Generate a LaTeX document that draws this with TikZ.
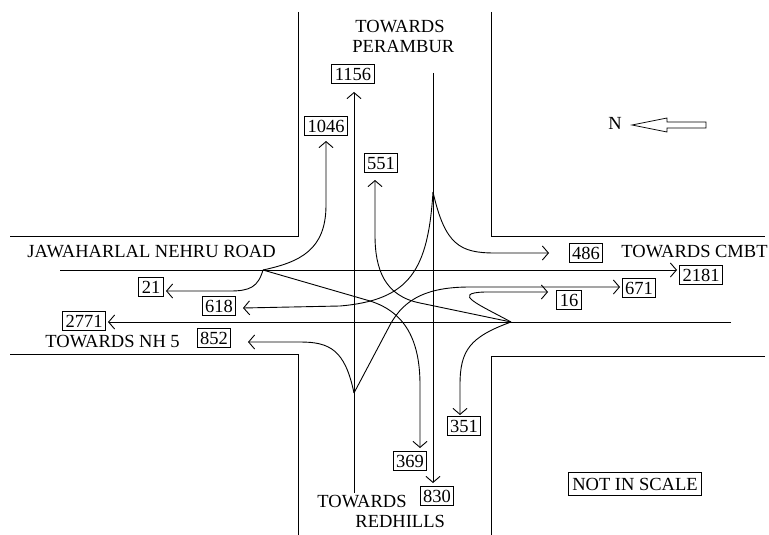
\documentclass[tikz,border=0pt]{standalone}
\usepackage{fontspec}
\setmainfont{Liberation Serif}
\usetikzlibrary{arrows.meta}

\begin{document}
\begin{tikzpicture}[x=1pt, y=-1pt, line width=0.9pt,
        font=\fontsize{18.5}{20}\selectfont,
        flow/.style={-{Straight Barb[length=6pt,width=14pt]}},
        count/.style={draw, line width=0.8pt, inner xsep=3pt, inner ysep=2pt, minimum height=19pt},
        place/.style={inner sep=0pt, anchor=base west}]
    \useasboundingbox (0,0) rectangle (769,535);
        % road edges
        \draw[line width=1pt] (298,12) -- (298,236) -- (10,236) ;
        \draw[line width=1pt] (491,12) -- (491,236) -- (765,236) ;
        \draw[line width=1pt] (10,354) -- (298,354) -- (298,535) ;
        \draw[line width=1pt] (765,356) -- (491,356) -- (491,535) ;
        % junction points and arrow ends
        \coordinate (W) at (263,270) ;
        \coordinate (E) at (511,322) ;
        \coordinate (Nc) at (433,192) ;
        \coordinate (Sc) at (354,393) ;
        \coordinate (wIn) at (60,270) ;
        \coordinate (eIn) at (731,322) ;
        \coordinate (sIn) at (354,493) ;
        \coordinate (nIn) at (433,73) ;
        \coordinate (to2181) at (677,270) ;
        \coordinate (to2771) at (108,322) ;
        \coordinate (to1156) at (354,92) ;
        \coordinate (to830) at (433,483) ;
        \coordinate (to1046) at (326,141) ;
        \coordinate (to21) at (166,291) ;
        \coordinate (to369) at (420,448) ;
        \coordinate (to551) at (375,180) ;
        \coordinate (to618) at (243,308) ;
        \coordinate (to486) at (549,253) ;
        \coordinate (to852) at (248,342) ;
        \coordinate (to671) at (620,287) ;
        \coordinate (to16) at (548,292) ;
        \coordinate (to351) at (460,415) ;
        % through traffic
        \draw[flow] (wIn) -- (to2181) ;
        \draw[flow] (eIn) -- (to2771) ;
        \draw[flow] (sIn) -- (to1156) ;
        \draw[flow] (nIn) -- (to830) ;
        % turning traffic
        \draw[flow] (W) .. controls (300,262) and (326,250) .. (326,205) -- (to1046) ;
        \draw[flow] (W) .. controls (258,287) and (250,291) .. (230,291) -- (to21) ;
        \draw[flow] (W) -- (370,301) .. controls (405,312) and (420,340) .. (420,385) -- (to369) ;
        \draw[flow] (E) -- (420,303) .. controls (385,296) and (375,270) .. (375,235) -- (to551) ;
        \draw[flow] (Nc) .. controls (428,270) and (410,300) .. (340,306) -- (to618) ;
        \draw[flow] (Nc) .. controls (445,245) and (460,253) .. (495,253) -- (to486) ;
        \draw[flow] (Sc) .. controls (345,350) and (330,342) .. (300,342) -- (to852) ;
        \draw[flow] (Sc) -- (390,325) .. controls (405,297) and (430,287) .. (470,287) -- (to671) ;
        \draw[flow] (E) .. controls (480,305) and (450,293) .. (485,292) -- (to16) ;
        \draw[flow] (E) .. controls (470,337) and (460,350) .. (460,385) -- (to351) ;
        % counts
        \node[count] (n1156) at (353,74) {1156} ;
        \node[count] (n1046) at (326,126) {1046} ;
        \node[count] (n551) at (381,163) {551} ;
        \node[count] (n486) at (586,253) {486} ;
        \node[count] (n2181) at (701,275) {2181} ;
        \node[count] (n671) at (639,288) {671} ;
        \node[count] (n16) at (569,300) {16} ;
        \node[count] (n351) at (464,426) {351} ;
        \node[count] (n369) at (410,461) {369} ;
        \node[count] (n830) at (437,496) {830} ;
        \node[count] (n21) at (151,287) {21} ;
        \node[count] (n618) at (219,306) {618} ;
        \node[count] (n2771) at (84,321) {2771} ;
        \node[count] (n852) at (214,338) {852} ;
        % road names
        \node[place] (perA) at (355,33) {TOWARDS} ;
        \node[place] (perB) at (352,53) {PERAMBUR} ;
        \node[place] (jnroad) at (27,257) {JAWAHARLAL NEHRU ROAD} ;
        \node[place] (cmbt) at (621,257) {TOWARDS CMBT} ;
        \node[place] (nh5) at (45,347) {TOWARDS NH 5} ;
        \node[place] (redA) at (317,507) {TOWARDS} ;
        \node[place] (redB) at (355,527) {REDHILLS} ;
        \node[draw, line width=0.8pt, inner xsep=4pt, minimum height=23pt] (scale) at (635,484) {NOT IN SCALE} ;
        % north arrow
        \node (north) at (615,123) {N} ;
        \draw[line width=0.7pt] (632,125) -- (667,118) -- (667,122) -- (706,122) -- (706,128) -- (667,128) -- (667,132) -- cycle ;
\end{tikzpicture}
\end{document}
